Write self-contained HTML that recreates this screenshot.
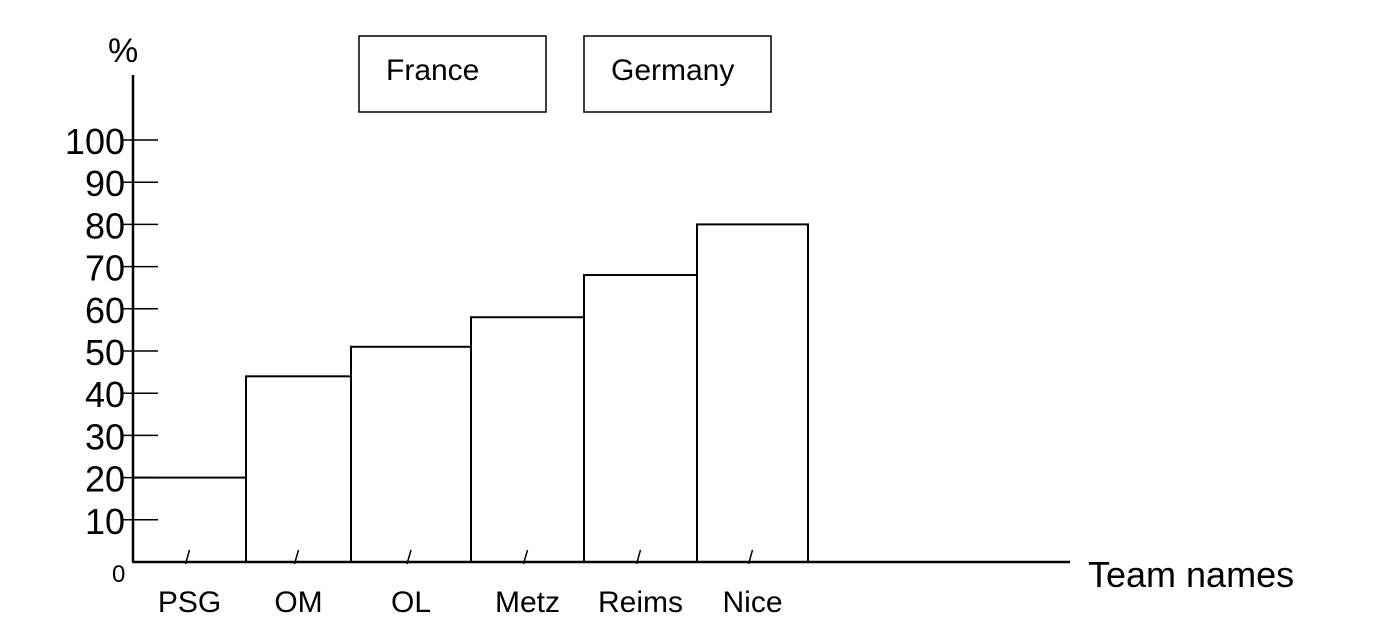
<!DOCTYPE html>
<html><head><meta charset="utf-8">
<style>
body{margin:0;background:#fff;}
svg{display:block;}
text{font-family:"Liberation Sans",sans-serif;fill:#000;font-weight:300;}
</style></head>
<body>
<svg width="1377" height="639" viewBox="0 0 1377 639">
<g id="chart"></g>
</svg>
<script>
const categories=["PSG","OM","OL","Metz","Reims","Nice"];
const values=[20,44,51,58,68,80];
const yTicks=[10,20,30,40,50,60,70,80,90,100];
const x0=133,y0=562,yTop=140;
const binEdges=[133,246,351,471,584,697,808];
function y(v){return y0-(v/100)*(y0-yTop);}
const NS="http://www.w3.org/2000/svg";
const g=document.getElementById('chart');
function mk(t,a,txt){const e=document.createElementNS(NS,t);for(const k in a)e.setAttribute(k,a[k]);if(txt!=null)e.textContent=txt;g.appendChild(e);return e;}
// bars
values.forEach((v,i)=>{
 const r=mk('rect',{x:binEdges[i],y:y(v),width:binEdges[i+1]-binEdges[i],height:y0-y(v),fill:'#fff',stroke:'#000','stroke-width':2});
 
 
 const cx=(binEdges[i]+binEdges[i+1])/2;
 const tk=mk('line',{x1:cx,y1:y0-12,x2:cx-4,y2:y0+2,stroke:'#000','stroke-width':1.5});
 
 
 const lb=mk('text',{x:cx,y:y0+50,'font-size':30,'text-anchor':'middle'},categories[i]);
 
 
});
// axes
let ax=mk('line',{x1:x0,y1:75,x2:x0,y2:y0,stroke:'#000','stroke-width':2.5});


ax=mk('line',{x1:x0,y1:y0,x2:1070,y2:y0,stroke:'#000','stroke-width':2.5});


yTicks.forEach(t=>{
 const l=mk('line',{x1:x0-10,y1:y(t),x2:x0+25,y2:y(t),stroke:'#000','stroke-width':1.5});
 
 
 const tx=mk('text',{x:x0-8,y:y(t)+14,'font-size':36,'text-anchor':'end'},String(t));
 
 
});
let t=mk('text',{x:112,y:582,'font-size':24},'0');


t=mk('text',{x:108,y:62,'font-size':34},'%');


t=mk('text',{x:1088,y:587,'font-size':36},'Team names');


// legend
[["France",359],["Germany",584]].forEach(([n,lx])=>{
 const r=mk('rect',{x:lx,y:36,width:187,height:76,fill:'#fff',stroke:'#000','stroke-width':1.5});
 
 
 const tx=mk('text',{x:lx+27,y:80,'font-size':30},n);
 
 
});
</script>
</body></html>
